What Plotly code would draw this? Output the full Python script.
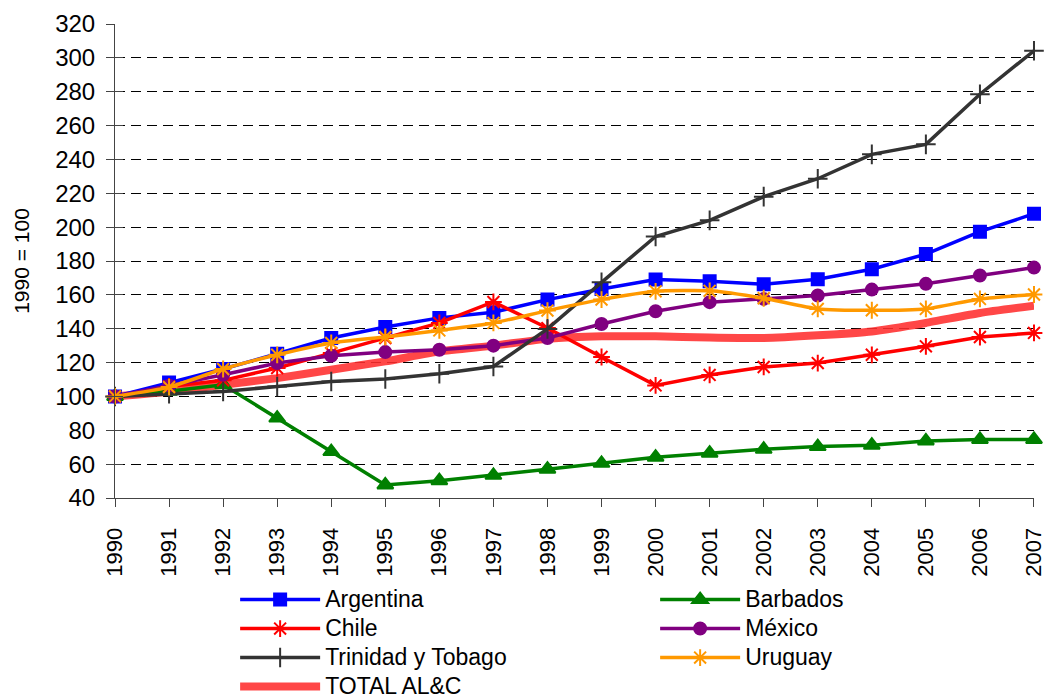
import plotly.graph_objects as go

# Index values, 1990 = 100
years = list(range(1990, 2008))
argentina = [100, 108.2, 116.2, 125.2, 134.5, 141.0, 146.4, 149.7, 157.2, 163.5,
             169.0, 168.0, 166.2, 169.2, 175.1, 184.1, 197.3, 207.9]
barbados = [100, 103.0, 106.9, 87.2, 67.4, 47.7, 50.2, 53.4, 57.0, 60.5,
            64.1, 66.5, 68.8, 70.4, 71.2, 73.7, 74.6, 74.6]
chile = [100, 105.9, 109.5, 116.8, 125.6, 134.5, 143.4, 155.8, 140.4, 123.3,
         106.5, 112.7, 117.4, 119.7, 124.6, 129.6, 135.1, 137.5]
mexico = [100, 106.3, 112.8, 119.7, 124.0, 126.2, 127.6, 130.0, 134.5, 142.8,
          150.3, 155.7, 157.6, 159.6, 163.1, 166.5, 171.4, 176.1]
trinidad = [100, 101.6, 102.9, 105.9, 108.8, 110.3, 113.4, 117.7, 139.9, 167.4,
            194.5, 204.0, 218.0, 228.6, 243.0, 248.9, 278.5, 304.2]
uruguay = [100, 105.5, 116.2, 124.6, 131.6, 135.1, 139.0, 143.4, 150.7, 157.2,
           162.1, 162.4, 158.0, 151.7, 150.9, 151.7, 157.6, 160.2]
total = [100, 102.9, 106.9, 110.8, 115.8, 120.7, 126.6, 130.0, 134.0, 135.5,
         135.5, 134.8, 134.5, 136.1, 138.4, 143.4, 149.3, 153.6]

y_ticks = list(range(40, 321, 20))

FONT = "Liberation Sans, Arial, sans-serif"


def legend_label(text):
    # larger glyphs than the legend's base size, which keeps the rows compact
    return "<span style='font-size:23px'>" + text + "</span>"


fig = go.Figure()

# Regional aggregate drawn first so the country series sit on top of it
fig.add_trace(go.Scatter(
    x=years, y=total, name=legend_label("TOTAL AL&amp;C"), mode="lines", legendrank=7,
    line=dict(color="rgba(255,45,45,0.88)", width=8, shape="spline", smoothing=0.5),
))

series = [
    ("Argentina", argentina, "#0000FF", "square", 12, 1, "linear"),
    ("Barbados", barbados, "#008000", "triangle-up", 14, 2, "linear"),
    ("Chile", chile, "#FF0000", "asterisk-open", 14, 3, "linear"),
    ("México", mexico, "#800080", "circle", 12, 4, "linear"),
    ("Trinidad y Tobago", trinidad, "#333333", "cross-thin-open", 14, 5, "linear"),
    ("Uruguay", uruguay, "#FF9900", "asterisk-open", 14, 6, "spline"),
]
for name, vals, color, symbol, size, rank, shape in series:
    fig.add_trace(go.Scatter(
        x=years, y=vals, name=legend_label(name), mode="lines+markers", legendrank=rank,
        line=dict(color=color, width=3.5, shape=shape, smoothing=0.5),
        marker=dict(symbol=symbol, size=size, color=color,
                    line=dict(color=color, width=2)),
        cliponaxis=False,
    ))

# empty trace that carries the inner half of the crossing y ticks
fig.add_trace(go.Scatter(x=[], y=[], yaxis="y2", showlegend=False, hoverinfo="skip"))

fig.update_layout(
    width=1045, height=698,
    margin=dict(l=115, r=11, t=24, b=200, autoexpand=False),
    paper_bgcolor="white", plot_bgcolor="white",
    font=dict(family=FONT, size=22, color="black"),
    showlegend=True,
    legend=dict(
        orientation="h", xref="container", yref="container",
        x=0.225, y=0.169, xanchor="left", yanchor="top",
        entrywidth=325, entrywidthmode="pixels", itemwidth=80,
        font=dict(family=FONT, size=20, color="black"),
        bgcolor="rgba(0,0,0,0)",
    ),
    xaxis=dict(
        range=[1989.9999, 2007.0001], tickmode="array", tickvals=years,
        ticktext=[str(y) for y in years], tickangle=-90, automargin=False,
        ticks="outside", ticklen=8, tickcolor="#444",
        showline=True, linecolor="#444", linewidth=1,
        showgrid=False, zeroline=False, ticklabelstandoff=12,
        ticklabeloverflow="allow", tickfont=dict(size=22),
    ),
    yaxis=dict(
        range=[40, 320], tickvals=y_ticks, automargin=False,
        ticks="outside", ticklen=8, tickcolor="#444",
        showline=True, linecolor="#444", linewidth=1,
        showgrid=True, gridcolor="black", gridwidth=1, griddash="10px,6px",
        zeroline=False, tickfont=dict(size=24), ticklabelstandoff=6,
        title=dict(text="1990 = 100", font=dict(size=21), standoff=19),
    ),
    yaxis2=dict(
        range=[40, 320], tickvals=y_ticks, overlaying="y", side="left",
        ticks="inside", ticklen=8, tickcolor="#444", automargin=False,
        showticklabels=False, showgrid=False, showline=False, zeroline=False,
    ),
)

fig.write_html("out.html")
